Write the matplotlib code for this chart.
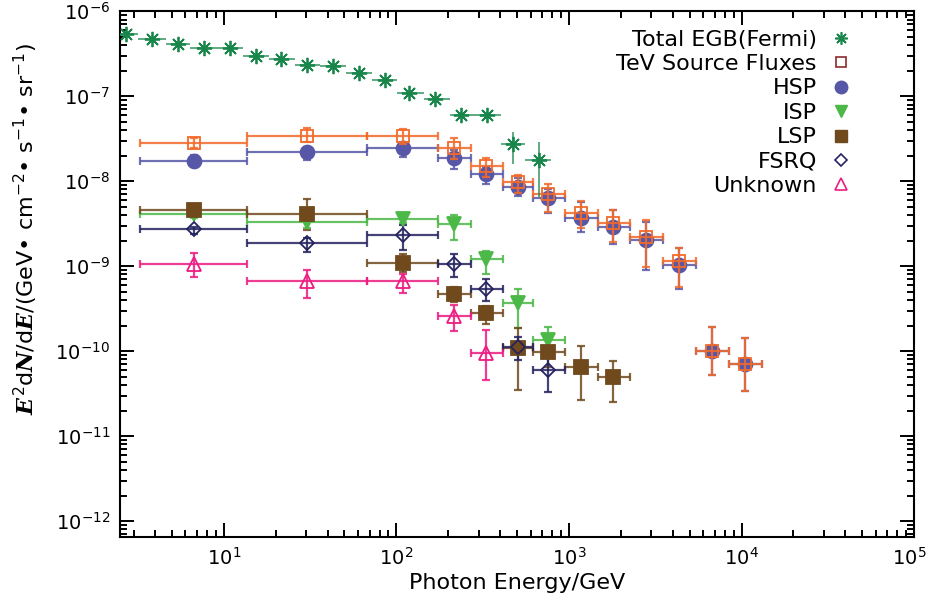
import numpy as np
import matplotlib
matplotlib.use("Agg")
import matplotlib.pyplot as plt
from matplotlib.lines import Line2D
from matplotlib.ticker import LogLocator, NullFormatter
from matplotlib.transforms import ScaledTranslation

plt.rcParams['font.family'] = ['DejaVu Sans']
plt.rcParams['mathtext.fontset'] = 'custom'
plt.rcParams['mathtext.rm'] = 'DejaVu Sans'
plt.rcParams['mathtext.it'] = 'DejaVu Serif:italic:bold'
plt.rcParams['mathtext.bf'] = 'DejaVu Sans:bold'

# ---- data ----
# Fermi total EGB
egb_e = [2.73, 3.84, 5.43, 7.69, 10.9, 15.3, 21.6, 30.5, 43.0, 60.4, 85.7, 119, 167, 237, 336, 472, 670]
egb_lo = [2.3, 3.2, 4.6, 6.4, 9.1, 12.9, 18.2, 25.7, 36.2, 51, 72, 101, 144, 204, 290, 405, 560]
egb_hi = [3.2, 4.6, 6.4, 9.1, 12.9, 18.2, 25.7, 36.2, 51, 72, 101, 144, 204, 290, 405, 560, 790]
egb_f = [5.36e-7, 4.69e-7, 4.09e-7, 3.70e-7, 3.74e-7, 2.96e-7, 2.72e-7, 2.32e-7, 2.25e-7,
         1.88e-7, 1.54e-7, 1.08e-7, 9.4e-8, 5.98e-8, 5.98e-8, 2.72e-8, 1.80e-8]
egb_flo = [5.36e-7, 4.69e-7, 4.09e-7, 3.70e-7, 3.74e-7, 2.96e-7, 2.72e-7, 2.32e-7, 2.25e-7,
           1.88e-7, 1.54e-7, 1.08e-7, 9.4e-8, 5.98e-8, 5.98e-8, 1.61e-8, 6.5e-9]
egb_fhi = [5.36e-7, 4.69e-7, 4.09e-7, 3.70e-7, 3.74e-7, 2.96e-7, 2.72e-7, 2.32e-7, 2.25e-7,
           1.88e-7, 1.54e-7, 1.08e-7, 9.4e-8, 5.98e-8, 5.98e-8, 3.8e-8, 2.9e-8]

# energy bins of the source-class points
bin_c = [6.73, 30.5, 109, 216, 330, 505, 760, 1175, 1811, 2793, 4355, 6778, 10520]
bin_lo = [3.26, 13.7, 68, 174, 269, 413, 617, 948, 1467, 2259, 3520, 5480, 8497]
bin_hi = [13.7, 68, 174, 269, 413, 617, 948, 1467, 2259, 3520, 5480, 8497, 13210]

tev_f = [2.82e-8, 3.41e-8, 3.38e-8, 2.49e-8, 1.50e-8, 9.8e-9, 7.03e-9, 4.24e-9, 3.23e-9,
         2.18e-9, 1.15e-9, 1.01e-10, 7.03e-11]
tev_flo = [2.47e-8, 2.9e-8, 2.78e-8, 1.85e-8, 1.12e-8, 7.35e-9, 4.3e-9, 2.78e-9, 1.93e-9,
           9.8e-10, 5.7e-10, 5.2e-11, 3.4e-11]
tev_fhi = [3.2e-8, 4.2e-8, 4.12e-8, 3.23e-8, 1.9e-8, 1.2e-8, 9.2e-9, 5.9e-9, 4.56e-9,
           3.48e-9, 1.62e-9, 1.93e-10, 1.41e-10]

hsp_f = [1.75e-8, 2.21e-8, 2.43e-8, 1.90e-8, 1.21e-8, 8.57e-9, 6.36e-9, 3.74e-9, 2.90e-9,
         2.02e-9, 1.03e-9, 1.01e-10, 7.03e-11]
hsp_flo = [1.46e-8, 1.77e-8, 1.91e-8, 1.38e-8, 9.4e-9, 6.67e-9, 4.24e-9, 2.53e-9, 1.85e-9,
           9.0e-10, 5.32e-10, 5.2e-11, 3.4e-11]
hsp_fhi = [2.02e-8, 2.53e-8, 2.9e-8, 2.33e-8, 1.47e-8, 1.08e-8, 8.2e-9, 5.7e-9, 4.56e-9,
           3.32e-9, 1.62e-9, 1.93e-10, 1.41e-10]

isp_f = [4.17e-9, 3.32e-9, 3.64e-9, 3.10e-9, 1.20e-9, 3.74e-10, 1.37e-10]
isp_flo = [3.7e-9, 2.8e-9, 3.2e-9, 2.02e-9, 8.05e-10, 1.85e-10, 1.0e-10]
isp_fhi = [4.6e-9, 3.9e-9, 4.1e-9, 3.98e-9, 1.51e-9, 5.36e-10, 1.93e-10]

lsp_f = [4.65e-9, 4.09e-9, 1.09e-9, 4.65e-10, 2.78e-10, 1.08e-10, 9.8e-11, 6.54e-11, 4.99e-11]
lsp_flo = [4.3e-9, 2.65e-9, 8.5e-10, 3.8e-10, 2.1e-10, 3.5e-11, 6.5e-11, 2.67e-11, 2.49e-11]
lsp_fhi = [5.0e-9, 6.1e-9, 1.4e-9, 5.7e-10, 3.4e-10, 1.85e-10, 1.4e-10, 1.15e-10, 7.7e-11]

fsrq_f = [2.72e-9, 1.88e-9, 2.32e-9, 1.05e-9, 5.32e-10, 1.12e-10, 5.97e-11]
fsrq_flo = [2.42e-9, 1.47e-9, 1.54e-9, 7.5e-10, 3.87e-10, 7.8e-11, 3.3e-11]
fsrq_fhi = [2.88e-9, 2.12e-9, 3.03e-9, 1.38e-9, 6.98e-10, 1.47e-10, 8.2e-11]

unk_f = [1.06e-9, 6.67e-10, 6.67e-10, 2.58e-10, 9.4e-11]
unk_flo = [7.5e-10, 4.28e-10, 4.78e-10, 1.72e-10, 4.56e-11]
unk_fhi = [1.43e-9, 9.1e-10, 8.2e-10, 3.54e-10, 1.77e-10]

labels = ['Total EGB(Fermi)', 'TeV Source Fluxes', 'HSP', 'ISP', 'LSP', 'FSRQ', 'Unknown']
xticks = [1e1, 1e2, 1e3, 1e4, 1e5]
yticks = [1e-12, 1e-11, 1e-10, 1e-9, 1e-8, 1e-7, 1e-6]

c_egb = '#18864a'
c_tev = '#f26a2a'
c_tev_leg = '#8c2a2a'
c_hsp = '#5757a8'
c_isp = '#4cb848'
c_lsp = '#704a1d'
c_fsrq = '#25235f'
c_unk = '#ec1c82'

fig = plt.figure(figsize=(9.29, 5.96), dpi=100)
ax = fig.add_axes([0.129, 0.099, 0.855, 0.882])


def draw(e, lo, hi, f, flo, fhi, color, marker, ms, filled, z, mew=1.3):
    n = len(f)
    e = np.array(e[:n]); lo = np.array(lo[:n]); hi = np.array(hi[:n])
    f = np.array(f); flo = np.array(flo); fhi = np.array(fhi)
    xerr = [e - lo, hi - e]
    yerr = [f - flo, fhi - f]
    ax.errorbar(e, f, xerr=xerr, yerr=yerr, fmt='none', ecolor=color, elinewidth=1.6,
                capsize=3, capthick=1.6, alpha=0.85, zorder=z)
    ax.plot(e, f, linestyle='none', marker=marker, ms=ms, color=color,
            mfc=color if filled else 'none', mec=color, mew=mew, zorder=z + 0.5)


draw(bin_c, bin_lo, bin_hi, hsp_f, hsp_flo, hsp_fhi, c_hsp, 'o', 10, True, 3)
draw(bin_c, bin_lo, bin_hi, tev_f, tev_flo, tev_fhi, c_tev, 's', 8, False, 4)
draw(bin_c, bin_lo, bin_hi, isp_f, isp_flo, isp_fhi, c_isp, 'v', 10, True, 3)
draw(bin_c, bin_lo, bin_hi, lsp_f, lsp_flo, lsp_fhi, c_lsp, 's', 10, True, 3)
draw(bin_c, bin_lo, bin_hi, fsrq_f, fsrq_flo, fsrq_fhi, c_fsrq, 'D', 7, False, 3)
draw(bin_c, bin_lo, bin_hi, unk_f, unk_flo, unk_fhi, c_unk, '^', 10, False, 3)

# EGB: bars without caps
egb_e_a = np.array(egb_e); egb_f_a = np.array(egb_f)
ax.errorbar(egb_e_a, egb_f_a,
            xerr=[egb_e_a - np.array(egb_lo), np.array(egb_hi) - egb_e_a],
            yerr=[egb_f_a - np.array(egb_flo), np.array(egb_fhi) - egb_f_a],
            fmt='none', ecolor=c_egb, elinewidth=1.3, capsize=0, alpha=0.75, zorder=5)
ax.plot(egb_e_a, egb_f_a, linestyle='none', marker=(8, 2, 0), ms=11, mec=c_egb,
        mew=1.3, zorder=5.5)

ax.set_xscale('log')
ax.set_yscale('log')
ax.set_xticks(xticks)
ax.set_yticks(yticks)
ax.xaxis.set_minor_locator(LogLocator(base=10, subs=np.arange(2, 10)))
ax.yaxis.set_minor_locator(LogLocator(base=10, subs=np.arange(2, 10)))
ax.xaxis.set_minor_formatter(NullFormatter())
ax.yaxis.set_minor_formatter(NullFormatter())
ax.set_xlim(2.5, 1e5)
ax.set_ylim(6.5e-13, 1e-6)

ax.tick_params(which='both', direction='in', top=True, right=True, width=1.4,
               labelsize=14, pad=7)
ax.tick_params(which='major', length=10)
ax.tick_params(which='minor', length=5)
for s in ax.spines.values():
    s.set_linewidth(1.5)

ax.set_xlabel('Photon Energy/GeV', fontsize=16, labelpad=3)
ax.set_ylabel(r'$E^{2}\mathrm{d}N/\mathrm{d}E/$(GeV• cm$^{-2}$• s$^{-1}$• sr$^{-1}$)',
              fontsize=16)
ax.yaxis.set_label_coords(-0.10, 0.585)

handles = [
    Line2D([], [], linestyle='none', marker=(8, 2, 0), ms=9, mec=c_egb, mew=1.2),
    Line2D([], [], linestyle='none', marker='s', ms=7, mfc='none', mec=c_tev_leg, mew=1.2),
    Line2D([], [], linestyle='none', marker='o', ms=9, color=c_hsp),
    Line2D([], [], linestyle='none', marker='v', ms=9, color=c_isp),
    Line2D([], [], linestyle='none', marker='s', ms=9, color=c_lsp),
    Line2D([], [], linestyle='none', marker='D', ms=6, mfc='none', mec=c_fsrq, mew=1.2),
    Line2D([], [], linestyle='none', marker='^', ms=9, mfc='none', mec=c_unk, mew=1.2),
]
ax.legend(handles, labels, loc='upper right', bbox_to_anchor=(0.942, 0.995), frameon=False,
          markerfirst=False, handlelength=1.0, handletextpad=0.6, labelspacing=0.2,
          fontsize=16, borderpad=0.2)

# keep the last x tick label inside the canvas
fig.canvas.draw()
for tk in ax.xaxis.get_major_ticks():
    if abs(tk.get_loc() - 1e5) < 1:
        tk.label1.set_ha('right')
        tk.label1.set_transform(tk.label1.get_transform()
                                + ScaledTranslation(0.12, 0, fig.dpi_scale_trans))

fig.savefig('out.png', dpi=100)
